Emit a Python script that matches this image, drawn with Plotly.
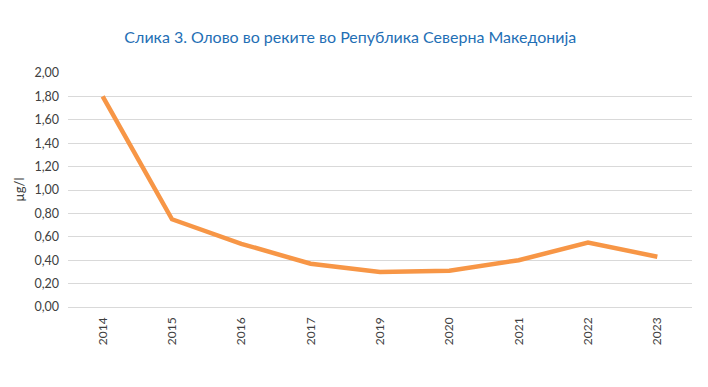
import plotly.graph_objects as go

years = ["2014", "2015", "2016", "2017", "2019", "2020", "2021", "2022", "2023"]
lead = [1.80, 0.75, 0.54, 0.37, 0.30, 0.31, 0.40, 0.55, 0.43]
y_ticks = [0.0, 0.2, 0.4, 0.6, 0.8, 1.0, 1.2, 1.4, 1.6, 1.8, 2.0]

fig = go.Figure()
fig.add_trace(go.Scatter(
    x=years, y=lead, mode="lines",
    line=dict(color="#F79646", width=4.5),
    hoverinfo="skip", showlegend=False,
))

fig.update_layout(
    width=700, height=379,
    margin=dict(l=60, r=16, t=65, b=80, autoexpand=False),
    paper_bgcolor="white", plot_bgcolor="white",
    separators=",.",
    font=dict(family="Lato, Liberation Sans, sans-serif", color="#595959", size=12),
    title=dict(
        text="Слика 3. Олово во реките во Република Северна Македонија",
        x=0.489, xanchor="center", y=0.923, yanchor="middle",
        font=dict(size=16, color="#1F6FB5", family="Lato, Liberation Sans, sans-serif"),
    ),
    xaxis=dict(
        type="category", tickangle=-90, showgrid=False, showline=False,
        range=[-0.5, 8.5], automargin=False, ticklabelstandoff=7,
        ticks="", tickfont=dict(size=12, color="#404040"),
    ),
    yaxis=dict(
        range=[0, 2.0], tickvals=y_ticks, tickformat=".2f", automargin=False,
        showgrid=True, gridcolor="#D9D9D9", gridwidth=1,
        zeroline=True, zerolinecolor="#D9D9D9", zerolinewidth=1,
        showline=False, ticks="", ticklabelstandoff=8,
        tickfont=dict(size=12.5, color="#404040"),
    ),
    annotations=[dict(
        text="µg/l", xref="paper", yref="paper", x=-0.079, y=0.5,
        xanchor="center", yanchor="middle", textangle=-90, showarrow=False,
        font=dict(size=13, color="#404040"),
    )],
)

fig.write_html("out.html")
